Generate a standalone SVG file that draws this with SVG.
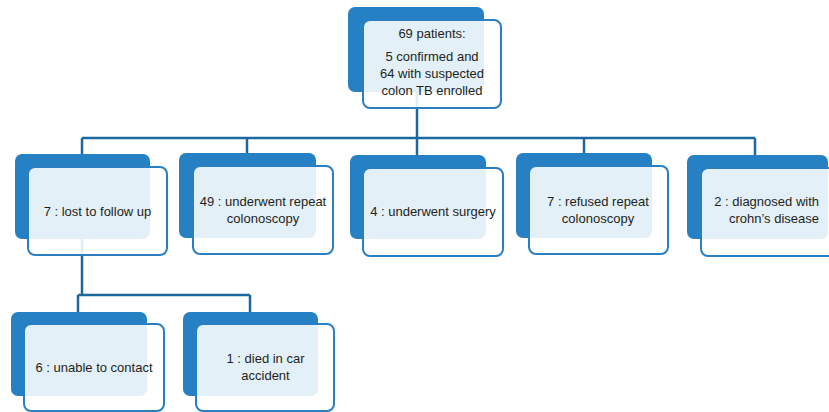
<svg xmlns="http://www.w3.org/2000/svg" width="829" height="412" viewBox="0 0 829 412">
<style>
.back{fill:#2581c3;}
.front{fill:#ffffff;fill-opacity:0.88;stroke:#2a7fc0;stroke-width:2;}
.conn{fill:none;stroke:#1d679f;stroke-width:2.5;}
text{font-family:"Liberation Sans",Arial,sans-serif;font-size:13px;fill:#231f20;text-anchor:middle;}
</style>
<rect width="829" height="412" fill="#ffffff"/>
<g id="connectors">
<path class="conn" d="M417,92 V138 M82,138 H755 M82,138 V154 M247,138 V153 M417,138 V155 M584,138 V153 M755,138 V155"/>
<path class="conn" d="M82,239 V295 M78,295 H250 M78,295 V312 M250,295 V312"/>
</g>
<g id="root">
<rect class="back" x="348" y="7" width="136" height="85" rx="7"/>
<rect class="front" x="363" y="20" width="138" height="88" rx="7"/>
<text x="432" y="38">69 patients:</text>
<text x="432" y="61">5 confirmed and</text>
<text x="432" y="78">64 with suspected</text>
<text x="432" y="95">colon TB enrolled</text>
</g>
<g id="lost">
<rect class="back" x="15" y="154" width="135" height="85" rx="7"/>
<rect class="front" x="28" y="167" width="139" height="88" rx="7"/>
<text x="97.5" y="216">7 : lost to follow up</text>
</g>
<g id="repeat">
<rect class="back" x="179" y="153" width="137" height="85" rx="7"/>
<rect class="front" x="193" y="166" width="140" height="88" rx="7"/>
<text x="263" y="206">49 : underwent repeat</text>
<text x="263" y="223">colonoscopy</text>
</g>
<g id="surgery">
<rect class="back" x="350" y="155" width="136" height="84" rx="7"/>
<rect class="front" x="363" y="168" width="140" height="88" rx="7"/>
<text x="433" y="216">4 : underwent surgery</text>
</g>
<g id="refused">
<rect class="back" x="516" y="153" width="136" height="85" rx="7"/>
<rect class="front" x="529" y="166" width="139" height="88" rx="7"/>
<text x="598" y="206">7 : refused repeat</text>
<text x="598" y="223">colonoscopy</text>
</g>
<g id="crohn">
<rect class="back" x="687" y="155" width="141" height="84" rx="7"/>
<rect class="front" x="701" y="168" width="140" height="88" rx="7"/>
<text x="819" y="206" style="text-anchor:end">2 : diagnosed with</text>
<text x="819" y="223" style="text-anchor:end">crohn’s disease</text>
</g>
<g id="unable">
<rect class="back" x="11" y="312" width="136" height="84" rx="7"/>
<rect class="front" x="24" y="324" width="140" height="87" rx="7"/>
<text x="94" y="372">6 : unable to contact</text>
</g>
<g id="died">
<rect class="back" x="183" y="312" width="135" height="84" rx="7"/>
<rect class="front" x="196" y="324" width="138" height="87" rx="7"/>
<text x="265.5" y="363">1 : died in car</text>
<text x="265.5" y="380">accident</text>
</g>
</svg>
